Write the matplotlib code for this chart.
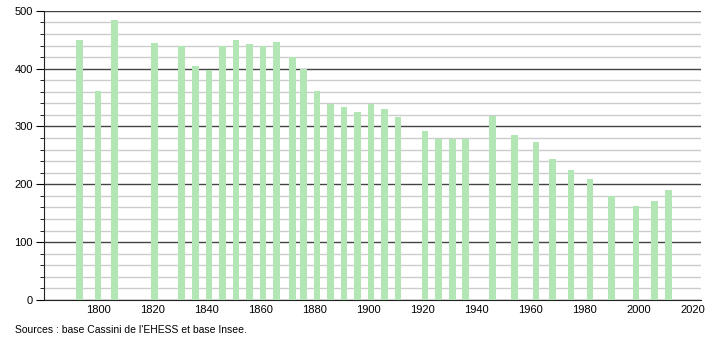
import matplotlib.pyplot as plt
from matplotlib.ticker import MultipleLocator

plt.rcParams['font.family'] = ['Liberation Sans', 'DejaVu Sans']

years = [1793, 1800, 1806, 1821, 1831, 1836, 1841, 1846, 1851, 1856, 1861,
         1866, 1872, 1876, 1881, 1886, 1891, 1896, 1901, 1906, 1911, 1921,
         1926, 1931, 1936, 1946, 1954, 1962, 1968, 1975, 1982, 1990, 1999,
         2006, 2011]
population = [450, 362, 485, 445, 440, 404, 397, 440, 450, 442, 440,
              447, 421, 400, 361, 339, 333, 325, 339, 331, 316, 292,
              279, 279, 279, 318, 286, 274, 243, 224, 210, 179, 162,
              171, 190]
source_text = "Sources : base Cassini de l'EHESS et base Insee."

fig = plt.figure(figsize=(7.1, 3.4), dpi=100)
ax = fig.add_axes([0.062, 0.118, 0.925, 0.85])

ax.bar(years, population, width=2.5, color='#b3e6b5', zorder=3)

ax.set_xlim(1780, 2023)
ax.set_ylim(0, 500)
ax.set_xticks(range(1800, 2021, 20))
ax.yaxis.set_major_locator(MultipleLocator(100))
ax.yaxis.set_minor_locator(MultipleLocator(20))

ax.grid(axis='y', which='major', color='#444444', linewidth=1.0, zorder=1)
ax.grid(axis='y', which='minor', color='#cccccc', linewidth=1.0, zorder=1)
ax.set_axisbelow(True)

for s in ['top', 'right']:
    ax.spines[s].set_visible(False)
ax.spines['left'].set_color('#222222')
ax.spines['bottom'].set_color('#222222')

ax.tick_params(axis='x', length=0, labelsize=8, pad=4)
ax.tick_params(axis='y', which='major', length=6, labelsize=8, pad=2)
ax.tick_params(axis='y', which='minor', length=3)

fig.text(0.021, 0.02, source_text, fontsize=7.5)

fig.savefig('out.png', dpi=100)
